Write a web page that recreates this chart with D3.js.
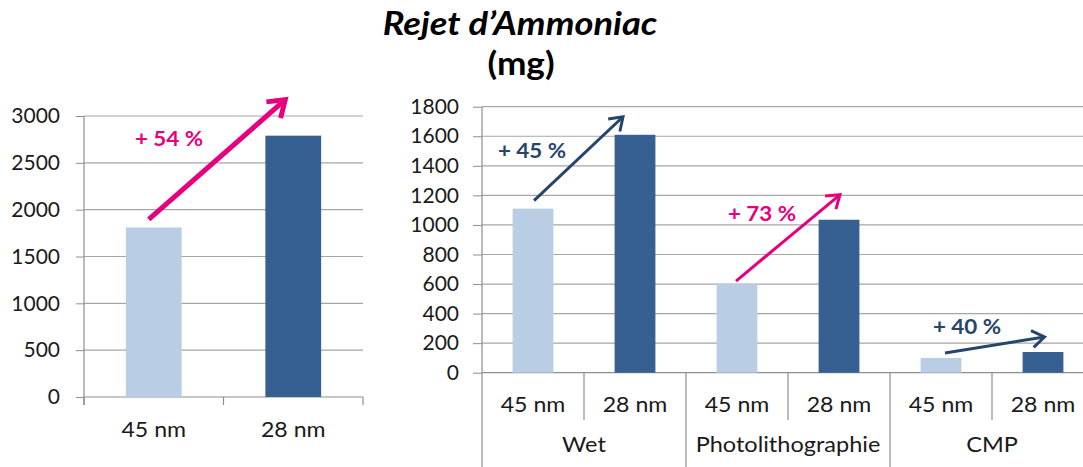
<!DOCTYPE html>
<html>
<head>
<meta charset="utf-8">
<script src="https://cdn.jsdelivr.net/npm/d3@7"></script>
<style>
  html, body { margin: 0; padding: 0; background: #fff; }
  svg { display: block; }
  text { font-family: Lato, "Open Sans", sans-serif; }
</style>
</head>
<body>
<svg id="chart" width="1083" height="467"></svg>
<script>
// Ammonia release (mg), 45 nm vs 28 nm
const totalCats = ["45 nm", "28 nm"];
const totalValues = [1810, 2790];
const totalTicks = [0, 500, 1000, 1500, 2000, 2500, 3000];
const totalGain = "+ 54 %";

const groups = ["Wet", "Photolithographie", "CMP"];
const nodes = ["45 nm", "28 nm"];
const values45 = [1110, 600, 100];
const values28 = [1610, 1035, 140];
const groupTicks = [0, 200, 400, 600, 800, 1000, 1200, 1400, 1600, 1800];
const groupGains = ["+ 45 %", "+ 73 %", "+ 40 %"];

const LIGHT = "#b9cde5", DARK = "#376092";
const PINK = "#e6007e", NAVY = "#27456b";
const GRID = "#a6a6a6", AXIS = "#8e8e8e", TXT = "#1a1a1a";

const svg = d3.select("#chart");

// Text with a slight horizontal widening
function label(g, x, y, text, o) {
  return g.append("text")
    .attr("transform", `translate(${x},${y}) scale(${o.sx || 1},1)`)
    .attr("text-anchor", o.anchor || "middle")
    .attr("font-size", o.size).attr("font-weight", o.weight || 400)
    .attr("font-style", o.style || "normal")
    .attr("fill", o.fill || TXT).text(text);
}

// Title
label(svg, 520, 35, "Rejet d\u2019Ammoniac", { size: 33, weight: 700, style: "italic", fill: "#000", sx: 1.1 });
label(svg, 521, 75, "(mg)", { size: 32, weight: 700, fill: "#000", sx: 1.1 });

// Open chevron arrow from (x1,y1) to (x2,y2)
function arrow(g, x1, y1, x2, y2, color, width, head) {
  const a = Math.atan2(y2 - y1, x2 - x1);
  const sp = Math.PI / 5.2;
  g.append("line").attr("x1", x1).attr("y1", y1)
    .attr("x2", x2 - Math.cos(a) * width * 0.6).attr("y2", y2 - Math.sin(a) * width * 0.6)
    .attr("stroke", color).attr("stroke-width", width);
  const p = d3.path();
  p.moveTo(x2 - head * Math.cos(a - sp), y2 - head * Math.sin(a - sp));
  p.lineTo(x2, y2);
  p.lineTo(x2 - head * Math.cos(a + sp), y2 - head * Math.sin(a + sp));
  g.append("path").attr("d", p.toString()).attr("fill", "none").attr("stroke", color)
    .attr("stroke-width", width).attr("stroke-linejoin", "miter").attr("stroke-linecap", "butt");
}

function gainLabel(g, x, y, text, color) {
  label(g, x, y, text, { size: 20, weight: 700, fill: color, sx: 1.12 });
}

// ---------- Left chart: total ----------
{
  const g = svg.append("g");
  const x = d3.scaleBand().domain(totalCats).range([84, 363]).paddingInner(0).paddingOuter(0);
  const y = d3.scaleLinear().domain([0, 3000]).range([397, 116]);

  const yAxis = d3.axisLeft(y).tickValues(totalTicks).tickFormat(d3.format("d")).tickSize(8).tickPadding(16);
  const ya = g.append("g").attr("transform", "translate(84,0)").call(yAxis);
  ya.select(".domain").remove();
  ya.selectAll(".tick line").attr("stroke", AXIS);
  ya.selectAll(".tick text").attr("font-size", 21).attr("fill", TXT).attr("font-family", "Lato, sans-serif");

  g.selectAll("line.grid").data(totalTicks).join("line").attr("class", "grid")
    .attr("x1", 84).attr("x2", 363).attr("y1", d => y(d)).attr("y2", d => y(d))
    .attr("stroke", d => d === 0 ? AXIS : GRID).attr("stroke-width", 1.2);
  g.append("line").attr("x1", 84).attr("x2", 84).attr("y1", y(3000)).attr("y2", 405)
    .attr("stroke", AXIS).attr("stroke-width", 1.2);

  // category separators
  const seps = [x(totalCats[0]), x(totalCats[1]), x(totalCats[1]) + x.bandwidth()];
  g.selectAll("line.sep").data(seps).join("line").attr("class", "sep")
    .attr("x1", d => d).attr("x2", d => d).attr("y1", 397).attr("y2", 405)
    .attr("stroke", AXIS).attr("stroke-width", 1.2);

  const bw = x.bandwidth() * 0.4;
  g.selectAll("rect.bar").data(totalValues).join("rect").attr("class", "bar")
    .attr("x", (d, i) => x(totalCats[i]) + (x.bandwidth() - bw) / 2)
    .attr("width", bw)
    .attr("y", d => y(d)).attr("height", d => y(0) - y(d))
    .attr("fill", (d, i) => i === 0 ? LIGHT : DARK);

  totalCats.forEach(c => label(g, x(c) + x.bandwidth() / 2, 437, c, { size: 21, sx: 1.1 }));

  const c0 = x(totalCats[0]) + x.bandwidth() / 2, c1 = x(totalCats[1]) + x.bandwidth() / 2;
  arrow(g, c0 - 5, y(totalValues[0]) - 8, c1 - 8, y(totalValues[1]) - 36, PINK, 5, 19);
  gainLabel(g, 169, 146, totalGain, PINK);
}

// ---------- Right chart: per process step ----------
{
  const g = svg.append("g");
  const x0 = 482, bandW = 102;
  const xg = d3.scaleBand().domain(groups).range([x0, x0 + bandW * 6]).paddingInner(0).paddingOuter(0);
  const xn = d3.scaleBand().domain(nodes).range([0, xg.bandwidth()]).paddingInner(0).paddingOuter(0);
  const y = d3.scaleLinear().domain([0, 1800]).range([372.7, 106.7]);
  const right = 1083;

  const yAxis = d3.axisLeft(y).tickValues(groupTicks).tickFormat(d3.format("d")).tickSize(9).tickPadding(14);
  const ya = g.append("g").attr("transform", `translate(${x0},0)`).call(yAxis);
  ya.select(".domain").remove();
  ya.selectAll(".tick line").attr("stroke", AXIS);
  ya.selectAll(".tick text").attr("font-size", 21).attr("fill", TXT).attr("font-family", "Lato, sans-serif");

  g.selectAll("line.grid").data(groupTicks).join("line").attr("class", "grid")
    .attr("x1", x0).attr("x2", right).attr("y1", d => y(d)).attr("y2", d => y(d))
    .attr("stroke", d => d === 0 ? AXIS : GRID).attr("stroke-width", 1.2);
  g.append("line").attr("x1", x0).attr("x2", x0).attr("y1", y(1800)).attr("y2", 467)
    .attr("stroke", AXIS).attr("stroke-width", 1.2);

  // group separators (long) and node separators (short)
  groups.forEach((grp, gi) => {
    const gx = xg(grp);
    const mid = gx + xn(nodes[1]);
    g.append("line").attr("x1", mid).attr("x2", mid).attr("y1", y(0)).attr("y2", 420)
      .attr("stroke", AXIS).attr("stroke-width", 1.2);
    const end = gx + xg.bandwidth();
    g.append("line").attr("x1", end).attr("x2", end).attr("y1", y(0)).attr("y2", 467)
      .attr("stroke", AXIS).attr("stroke-width", 1.2);

    const bw = xn.bandwidth() * 0.4;
    const vals = [values45[gi], values28[gi]];
    vals.forEach((v, ni) => {
      g.append("rect")
        .attr("x", gx + xn(nodes[ni]) + (xn.bandwidth() - bw) / 2)
        .attr("width", bw)
        .attr("y", y(v)).attr("height", y(0) - y(v))
        .attr("fill", ni === 0 ? LIGHT : DARK);
      label(g, gx + xn(nodes[ni]) + xn.bandwidth() / 2, 412, nodes[ni], { size: 21, sx: 1.1 });
    });
    label(g, gx + xg.bandwidth() / 2, 452, grp, { size: 21, sx: 1.12 });
  });

  // change arrows
  const arrowStyle = [
    { color: NAVY, s: [1, -8], e: [-12, -18], lx: 532, ly: 158 },
    { color: PINK, s: [-1, -3], e: [1, -25], lx: 762, ly: 221 },
    { color: NAVY, s: [4, -5], e: [1.5, -15], lx: 967, ly: 334 }
  ];
  groups.forEach((grp, gi) => {
    const st = arrowStyle[gi];
    const c45 = xg(grp) + xn(nodes[0]) + xn.bandwidth() / 2;
    const c28 = xg(grp) + xn(nodes[1]) + xn.bandwidth() / 2;
    arrow(g, c45 + st.s[0], y(values45[gi]) + st.s[1], c28 + st.e[0], y(values28[gi]) + st.e[1], st.color, 3, 15);
    gainLabel(g, st.lx, st.ly, groupGains[gi], st.color);
  });
}
</script>
</body>
</html>
